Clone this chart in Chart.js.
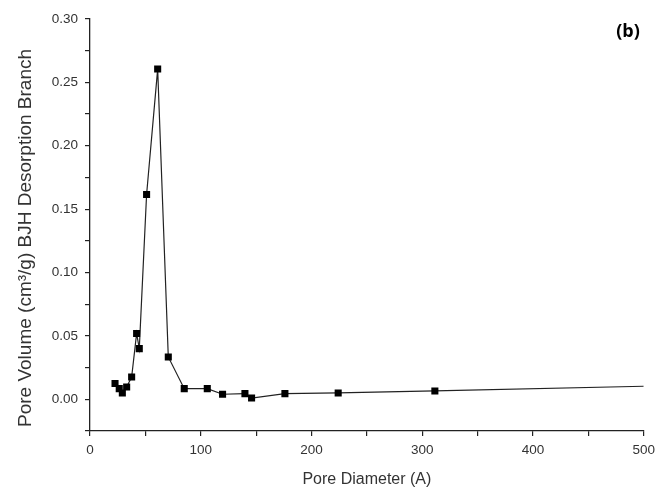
<!DOCTYPE html>
<html>
<head>
<meta charset="utf-8">
<script src="https://cdn.jsdelivr.net/npm/chart.js@4"></script>
<style>
  html, body { margin: 0; padding: 0; background: #fff; }
  #wrap { width: 661px; height: 493px; }
</style>
</head>
<body>
<div id="wrap"><canvas id="pore-chart" width="661" height="493"></canvas></div>
<script>
// pore size distribution
let poreDiameter = [22.6, 26.4, 29.2, 33.1, 37.6, 42.1, 44.5, 51.1, 61.1, 70.7, 85.1, 105.9, 119.7, 139.9, 145.9, 176, 224.1, 311.4, 500];
let poreVolume = [0.0124, 0.0084, 0.005, 0.0097, 0.0176, 0.0519, 0.040, 0.1616, 0.2605, 0.0334, 0.0084, 0.0084, 0.004, 0.0045, 0.001, 0.0045, 0.005, 0.0066, 0.0103];
let xTicks = [0, 100, 200, 300, 400, 500];
let yTicks = ['0.00', '0.05', '0.10', '0.15', '0.20', '0.25', '0.30'];
let panelLabel = '(b)';
let yTitle = 'Pore Volume (cm\u00b3/g) BJH Desorption Branch';

let points = poreDiameter.map((d, i) => ({x: d, y: poreVolume[i]}));
// last point is only where the curve ends, no marker there
let radii = poreDiameter.map((d, i) => i == poreDiameter.length - 1 ? 0 : 5);

let font = "'Liberation Sans', Arial, sans-serif";

// panel letter and the y title (the title sits a bit below the axis centre in the original)
const textPlugin = {
  id: 'extraText',
  afterDraw(chart) {
    let c = chart.ctx;
    c.save();
    c.font = "bold 18px 'Open Sans', 'Liberation Sans', sans-serif";
    c.fillStyle = '#000';
    c.textAlign = 'center';
    c.textBaseline = 'middle';
    c.fillText(panelLabel, 628, 32);

    c.translate(26, 238);
    c.rotate(-Math.PI / 2);
    c.font = "19px " + font;
    c.fillStyle = '#333';
    c.fillText(yTitle, 0, 0);
    c.restore();
  }
};

let ctx = document.getElementById('pore-chart').getContext('2d');
let poreChart = new Chart(ctx, {
  type: 'scatter',
  data: {
    datasets: [{
      data: points,
      showLine: true,
      borderColor: '#222',
      borderWidth: 1.2,
      backgroundColor: '#000',
      pointStyle: 'rect',
      pointRadius: radii,
      pointBorderWidth: 0,
      tension: 0
    }]
  },
  options: {
    responsive: false,
    animation: false,
    layout: { padding: { left: 0, right: 17, top: 19, bottom: 0 } },
    plugins: { legend: { display: false }, tooltip: { enabled: false } },
    scales: {
      x: {
        type: 'linear',
        min: 0, max: 500,
        afterFit: s => { s.height = 62; },
        afterBuildTicks: s => { s.ticks = []; for (let v = 0; v <= 500; v += 50) s.ticks.push({value: v}); },
        border: { display: true, color: '#222', width: 1.3 },
        grid: { drawOnChartArea: false, drawTicks: true, tickLength: 5, color: '#222', lineWidth: 1.2 },
        ticks: {
          color: '#333', font: { family: font, size: 13.5 }, padding: 6, maxRotation: 0,
          callback: v => xTicks.includes(v) ? String(v) : ''
        },
        title: { display: true, text: 'Pore Diameter (A)', color: '#333', font: { family: font, size: 16 }, padding: { top: 0, bottom: 4 } }
      },
      y: {
        type: 'linear',
        min: -0.025, max: 0.30,
        afterFit: s => { s.width = 90; },
        afterBuildTicks: s => { s.ticks = []; for (let i = -1; i <= 12; i++) s.ticks.push({value: +(i * 0.025).toFixed(3)}); },
        border: { display: true, color: '#222', width: 1.3 },
        grid: { drawOnChartArea: false, drawTicks: true, tickLength: 5, color: '#222', lineWidth: 1.2 },
        ticks: {
          color: '#333', font: { family: font, size: 13.5 }, padding: 7,
          callback: v => { let t = v.toFixed(2); return (Math.abs(v * 40 % 2) < 1e-6 && yTicks.includes(t)) ? t : ''; }
        },
        title: { display: false }
      }
    }
  },
  plugins: [textPlugin]
});
</script>
</body>
</html>
